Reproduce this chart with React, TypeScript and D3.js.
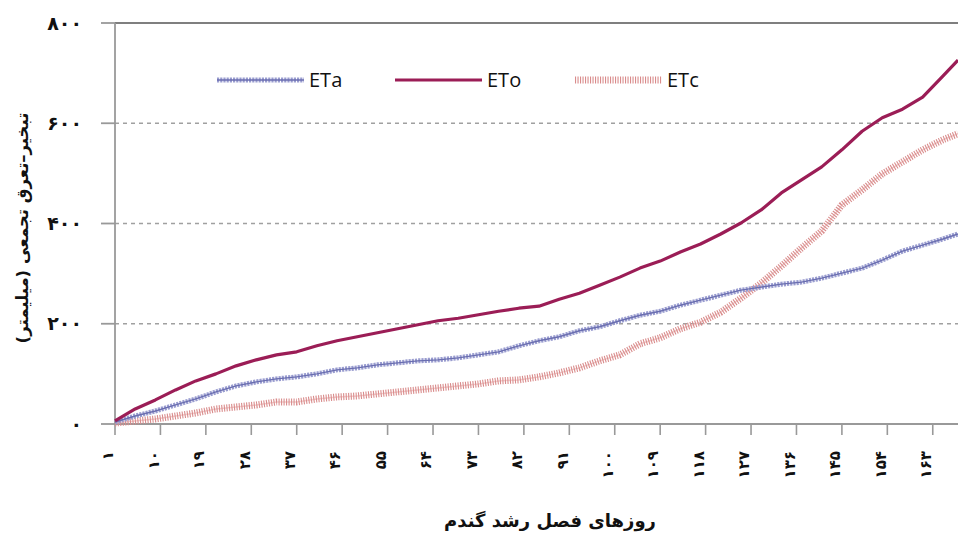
import React, { useRef, useEffect } from 'react';
import * as d3 from 'd3';

// sampled growing-season days (every 4 days) and cumulative values (mm)
const DAYS = [1, 5, 9, 13, 17, 21, 25, 29, 33, 37, 41, 45, 49, 53, 57, 61, 65, 69, 73, 77, 81, 85,
    89, 93, 97, 101, 105, 109, 113, 117, 121, 125, 129, 133, 137, 141, 145, 149, 153, 157, 161, 165, 168];

const ETO = [6, 30, 48, 68, 86, 100, 116, 128, 138, 144, 156, 166, 174, 182, 190, 198, 206, 211, 218, 225, 231, 235,
    249, 261, 277, 293, 311, 325, 343, 359, 379, 401, 427, 461, 487, 513, 547, 584, 611, 628, 652, 694, 726];

const ETA = [4, 16, 26, 38, 50, 64, 76, 84, 90, 94, 100, 108, 112, 118, 122, 126, 128, 132, 138, 144, 156, 166,
    174, 186, 194, 206, 217, 225, 237, 247, 257, 267, 273, 279, 283, 291, 301, 311, 327, 345, 357, 369, 379];

const ETC = [2, 6, 10, 16, 22, 30, 34, 38, 44, 44, 50, 54, 56, 60, 64, 68, 72, 76, 80, 86, 88, 94,
    102, 112, 126, 138, 160, 172, 190, 203, 223, 251, 281, 315, 351, 385, 437, 467, 499, 523, 547, 567, 579];

const X_TICKS = [1, 10, 19, 28, 37, 46, 55, 64, 73, 82, 91, 100, 109, 118, 127, 136, 145, 154, 163];
const Y_TICKS = [0, 200, 400, 600, 800];

const FA_DIGITS = '۰۱۲۳۴۵۶۷۸۹';
const toFa = (n: number) => String(n).replace(/\d/g, (c) => FA_DIGITS[+c]);

const FA_FONT = '"DejaVu Sans", sans-serif';

const App: React.FC = () => {
    const svgRef = useRef<SVGSVGElement>(null);

    useEffect(() => {
        if (!svgRef.current) return;
        const svg = d3.select(svgRef.current);
        svg.selectAll("*").remove();

        const x = d3.scaleLinear().domain([1, 168]).range([115, 958]);
        const y = d3.scaleLinear().domain([0, 800]).range([424, 23]);

        // grid
        svg.append("g")
            .selectAll("line")
            .data([200, 400, 600])
            .join("line")
            .attr("x1", 115).attr("x2", 958)
            .attr("y1", (d) => y(d)).attr("y2", (d) => y(d))
            .attr("stroke", "#a0a0a0")
            .attr("stroke-width", 1.6)
            .attr("stroke-dasharray", "4,4");

        // top border
        svg.append("line")
            .attr("x1", 115).attr("x2", 958)
            .attr("y1", y(800)).attr("y2", y(800))
            .attr("stroke", "#555").attr("stroke-width", 1.6);

        // y axis
        const yAxis = svg.append("g");
        yAxis.append("line")
            .attr("x1", 115).attr("x2", 115)
            .attr("y1", y(800)).attr("y2", y(0))
            .attr("stroke", "#999").attr("stroke-width", 1.8);
        yAxis.selectAll("line.tick")
            .data(Y_TICKS)
            .join("line")
            .attr("class", "tick")
            .attr("x1", 101).attr("x2", 115)
            .attr("y1", (d) => y(d)).attr("y2", (d) => y(d))
            .attr("stroke", "#999").attr("stroke-width", 1.8);
        yAxis.selectAll("text")
            .data(Y_TICKS)
            .join("text")
            .attr("x", 82)
            .attr("y", (d) => y(d))
            .attr("dy", "0.35em")
            .attr("text-anchor", "end")
            .style("font-family", FA_FONT)
            .style("font-weight", "bold")
            .style("font-size", "19px")
            .attr("fill", "#111")
            .text((d) => toFa(d));

        // x axis
        const xAxis = svg.append("g");
        xAxis.append("line")
            .attr("x1", 115).attr("x2", 958)
            .attr("y1", y(0)).attr("y2", y(0))
            .attr("stroke", "#999").attr("stroke-width", 1.8);
        xAxis.selectAll("line.tick")
            .data(X_TICKS)
            .join("line")
            .attr("class", "tick")
            .attr("x1", (d) => x(d)).attr("x2", (d) => x(d))
            .attr("y1", y(0)).attr("y2", y(0) + 11)
            .attr("stroke", "#999").attr("stroke-width", 1.6);
        xAxis.selectAll("text")
            .data(X_TICKS)
            .join("text")
            .attr("transform", (d) => `translate(${x(d) - 7},451) rotate(-90)`)
            .attr("dy", "0.35em")
            .attr("text-anchor", "end")
            .style("font-family", FA_FONT)
            .style("font-weight", "bold")
            .style("font-size", "15px")
            .attr("fill", "#111")
            .text((d) => toFa(d));

        // titles
        svg.append("text")
            .attr("x", 550).attr("y", 527)
            .attr("text-anchor", "middle")
            .style("font-family", FA_FONT)
            .style("font-weight", "bold")
            .style("font-size", "18px")
            .attr("fill", "#111")
            .text("روزهای فصل رشد گندم");

        svg.append("text")
            .attr("transform", "translate(22,228) rotate(-90)")
            .attr("dy", "0.35em")
            .attr("text-anchor", "middle")
            .style("font-family", FA_FONT)
            .style("font-weight", "bold")
            .style("font-size", "16.5px")
            .attr("fill", "#111")
            .text("تبخیر–تعرق تجمعی (میلیمتر)");

        const line = (vals: number[]) =>
            d3.line<number>().x((_, i) => x(DAYS[i])).y((d) => y(d))(vals) as string;

        // ETc: light pink hatched
        svg.append("path").attr("d", line(ETC))
            .attr("fill", "none").attr("stroke", "#f2cccc").attr("stroke-width", 1.5);
        svg.append("path").attr("d", line(ETC))
            .attr("fill", "none").attr("stroke", "#d98c8c").attr("stroke-width", 7)
            .attr("stroke-dasharray", "1.1,1.4");

        // ETa: blue-purple with small markers
        svg.append("path").attr("d", line(ETA))
            .attr("fill", "none").attr("stroke", "#9a9dd0").attr("stroke-width", 5)
            .attr("stroke-dasharray", "2.2,1");
        svg.append("path").attr("d", line(ETA))
            .attr("fill", "none").attr("stroke", "#6a6eb0").attr("stroke-width", 1.4);

        // ETo: solid dark magenta
        svg.append("path").attr("d", line(ETO))
            .attr("fill", "none").attr("stroke", "#9b1d56").attr("stroke-width", 3.2)
            .attr("stroke-linejoin", "round");

        // legend
        const legendItems = [
            { label: "ETa", x0: 217 },
            { label: "ETo", x0: 395 },
            { label: "ETc", x0: 575 },
        ];
        const ly = 80;
        const lg = svg.append("g");
        legendItems.forEach((item) => {
            const x1 = item.x0 + 87;
            if (item.label === "ETa") {
                lg.append("line").attr("x1", item.x0).attr("x2", x1).attr("y1", ly).attr("y2", ly)
                    .attr("stroke", "#9a9dd0").attr("stroke-width", 5).attr("stroke-dasharray", "2.2,1");
                lg.append("line").attr("x1", item.x0).attr("x2", x1).attr("y1", ly).attr("y2", ly)
                    .attr("stroke", "#6a6eb0").attr("stroke-width", 1.4);
            } else if (item.label === "ETo") {
                lg.append("line").attr("x1", item.x0).attr("x2", x1).attr("y1", ly).attr("y2", ly)
                    .attr("stroke", "#9b1d56").attr("stroke-width", 3.2);
            } else {
                lg.append("line").attr("x1", item.x0).attr("x2", x1).attr("y1", ly).attr("y2", ly)
                    .attr("stroke", "#d98c8c").attr("stroke-width", 7).attr("stroke-dasharray", "1.1,1.4");
            }
            lg.append("text")
                .attr("x", x1 + 5).attr("y", ly)
                .attr("dy", "0.35em")
                .style("font-family", '"Open Sans", sans-serif')
                .style("font-size", "20px")
                .attr("fill", "#111")
                .text(item.label);
        });
    }, []);

    return (
        <svg ref={svgRef} width={958} height={536}
            style={{ position: 'absolute', left: 0, top: 0, background: '#fff' }} />
    );
};

export default App;
